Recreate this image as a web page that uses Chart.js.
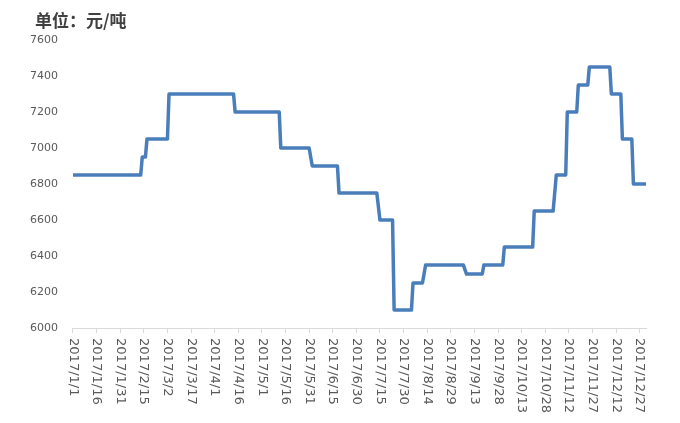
<!DOCTYPE html>
<html>
<head>
<meta charset="utf-8">
<script src="https://cdn.jsdelivr.net/npm/chart.js@4"></script>
<style>
  html, body { margin: 0; padding: 0; background: #fff; }
  #wrap { width: 680px; height: 423px; }
</style>
</head>
<body>
<div id="wrap"><canvas id="priceChart"></canvas></div>
<script>
// day of year (0 = 2017/1/1) at each end of a price plateau
var days = [0, 43, 44, 46, 47, 60, 61, 102, 103, 131, 132, 150, 152, 168, 169, 193,
  195, 203, 204, 215, 216, 222, 224, 248, 250, 260, 261, 273, 274, 292, 293, 305,
  307, 313, 314, 320, 321, 327, 328, 341, 342, 348, 349, 355, 356, 364];
var prices = [6850, 6850, 6950, 6950, 7050, 7050, 7300, 7300, 7200, 7200, 7000, 7000,
  6900, 6900, 6750, 6750, 6600, 6600, 6100, 6100, 6250, 6250, 6350, 6350, 6300, 6300,
  6350, 6350, 6450, 6450, 6650, 6650, 6850, 6850, 7200, 7200, 7350, 7350, 7450, 7450,
  7300, 7300, 7050, 7050, 6800, 6800];
var tickLabels = ["2017/1/1", "2017/1/16", "2017/1/31", "2017/2/15", "2017/3/2",
  "2017/3/17", "2017/4/1", "2017/4/16", "2017/5/1", "2017/5/16", "2017/5/31",
  "2017/6/15", "2017/6/30", "2017/7/15", "2017/7/30", "2017/8/14", "2017/8/29",
  "2017/9/13", "2017/9/28", "2017/10/13", "2017/10/28", "2017/11/12", "2017/11/27",
  "2017/12/12", "2017/12/27"];
var unitTitle = "单位：元/吨";

var points = days.map(function (d, i) { return { x: d, y: prices[i] }; });

// Excel-style labels: turned clockwise, reading top to bottom
var sideLabels = {
  id: "sideLabels",
  afterDraw: function (chart) {
    var ctx = chart.ctx;
    var x = chart.scales.x;
    ctx.save();
    ctx.font = '13px "DejaVu Sans"';
    ctx.fillStyle = "#595959";
    ctx.textAlign = "left";
    ctx.textBaseline = "middle";
    x.ticks.forEach(function (t) {
      var label = tickLabels[Math.round(t.value / 15)];
      if (!label) return;
      ctx.save();
      ctx.translate(x.getPixelForValue(t.value), x.top + 10);
      ctx.rotate(Math.PI / 2);
      ctx.fillText(label, 0, 0);
      ctx.restore();
    });
    ctx.font = 'bold 17px "Noto Sans CJK SC"';
    ctx.fillStyle = "#404040";
    ctx.fillText(unitTitle, 35, 21);
    ctx.restore();
  }
};

new Chart("priceChart", {
  type: "line",
  data: {
    datasets: [
      {
        data: points,
        borderColor: "#4A7EBB",
        borderWidth: 3.5,
        borderJoinStyle: "round",
        pointRadius: 0,
        tension: 0,
        fill: false,
      },
    ],
  },
  options: {
    responsive: true,
    maintainAspectRatio: false,
    animation: false,
    layout: { padding: { left: 15, right: 34, top: 40, bottom: 5 } },
    plugins: {
      legend: { display: false },
      tooltip: { enabled: false },
    },
    scales: {
      x: {
        type: "linear",
        min: 0,
        max: 364,
        grid: { drawOnChartArea: false, color: "#d9d9d9", tickLength: 5 },
        border: { color: "#d9d9d9" },
        ticks: {
          stepSize: 15,
          includeBounds: false,
          autoSkip: false,
          maxRotation: 90,
          minRotation: 90,
          padding: 5,
          color: "rgba(0,0,0,0)",
          font: { family: "DejaVu Sans", size: 13 },
          callback: function (v) { return tickLabels[Math.round(v / 15)]; },
        },
      },
      y: {
        min: 6000,
        max: 7600,
        grid: { display: false, drawTicks: false },
        border: { display: false },
        ticks: {
          stepSize: 200,
          padding: 15,
          color: "#595959",
          font: { family: "DejaVu Sans", size: 11 },
          callback: function (v) { return String(v); },
        },
      },
    },
  },
  plugins: [sideLabels],
});
</script>
</body>
</html>
